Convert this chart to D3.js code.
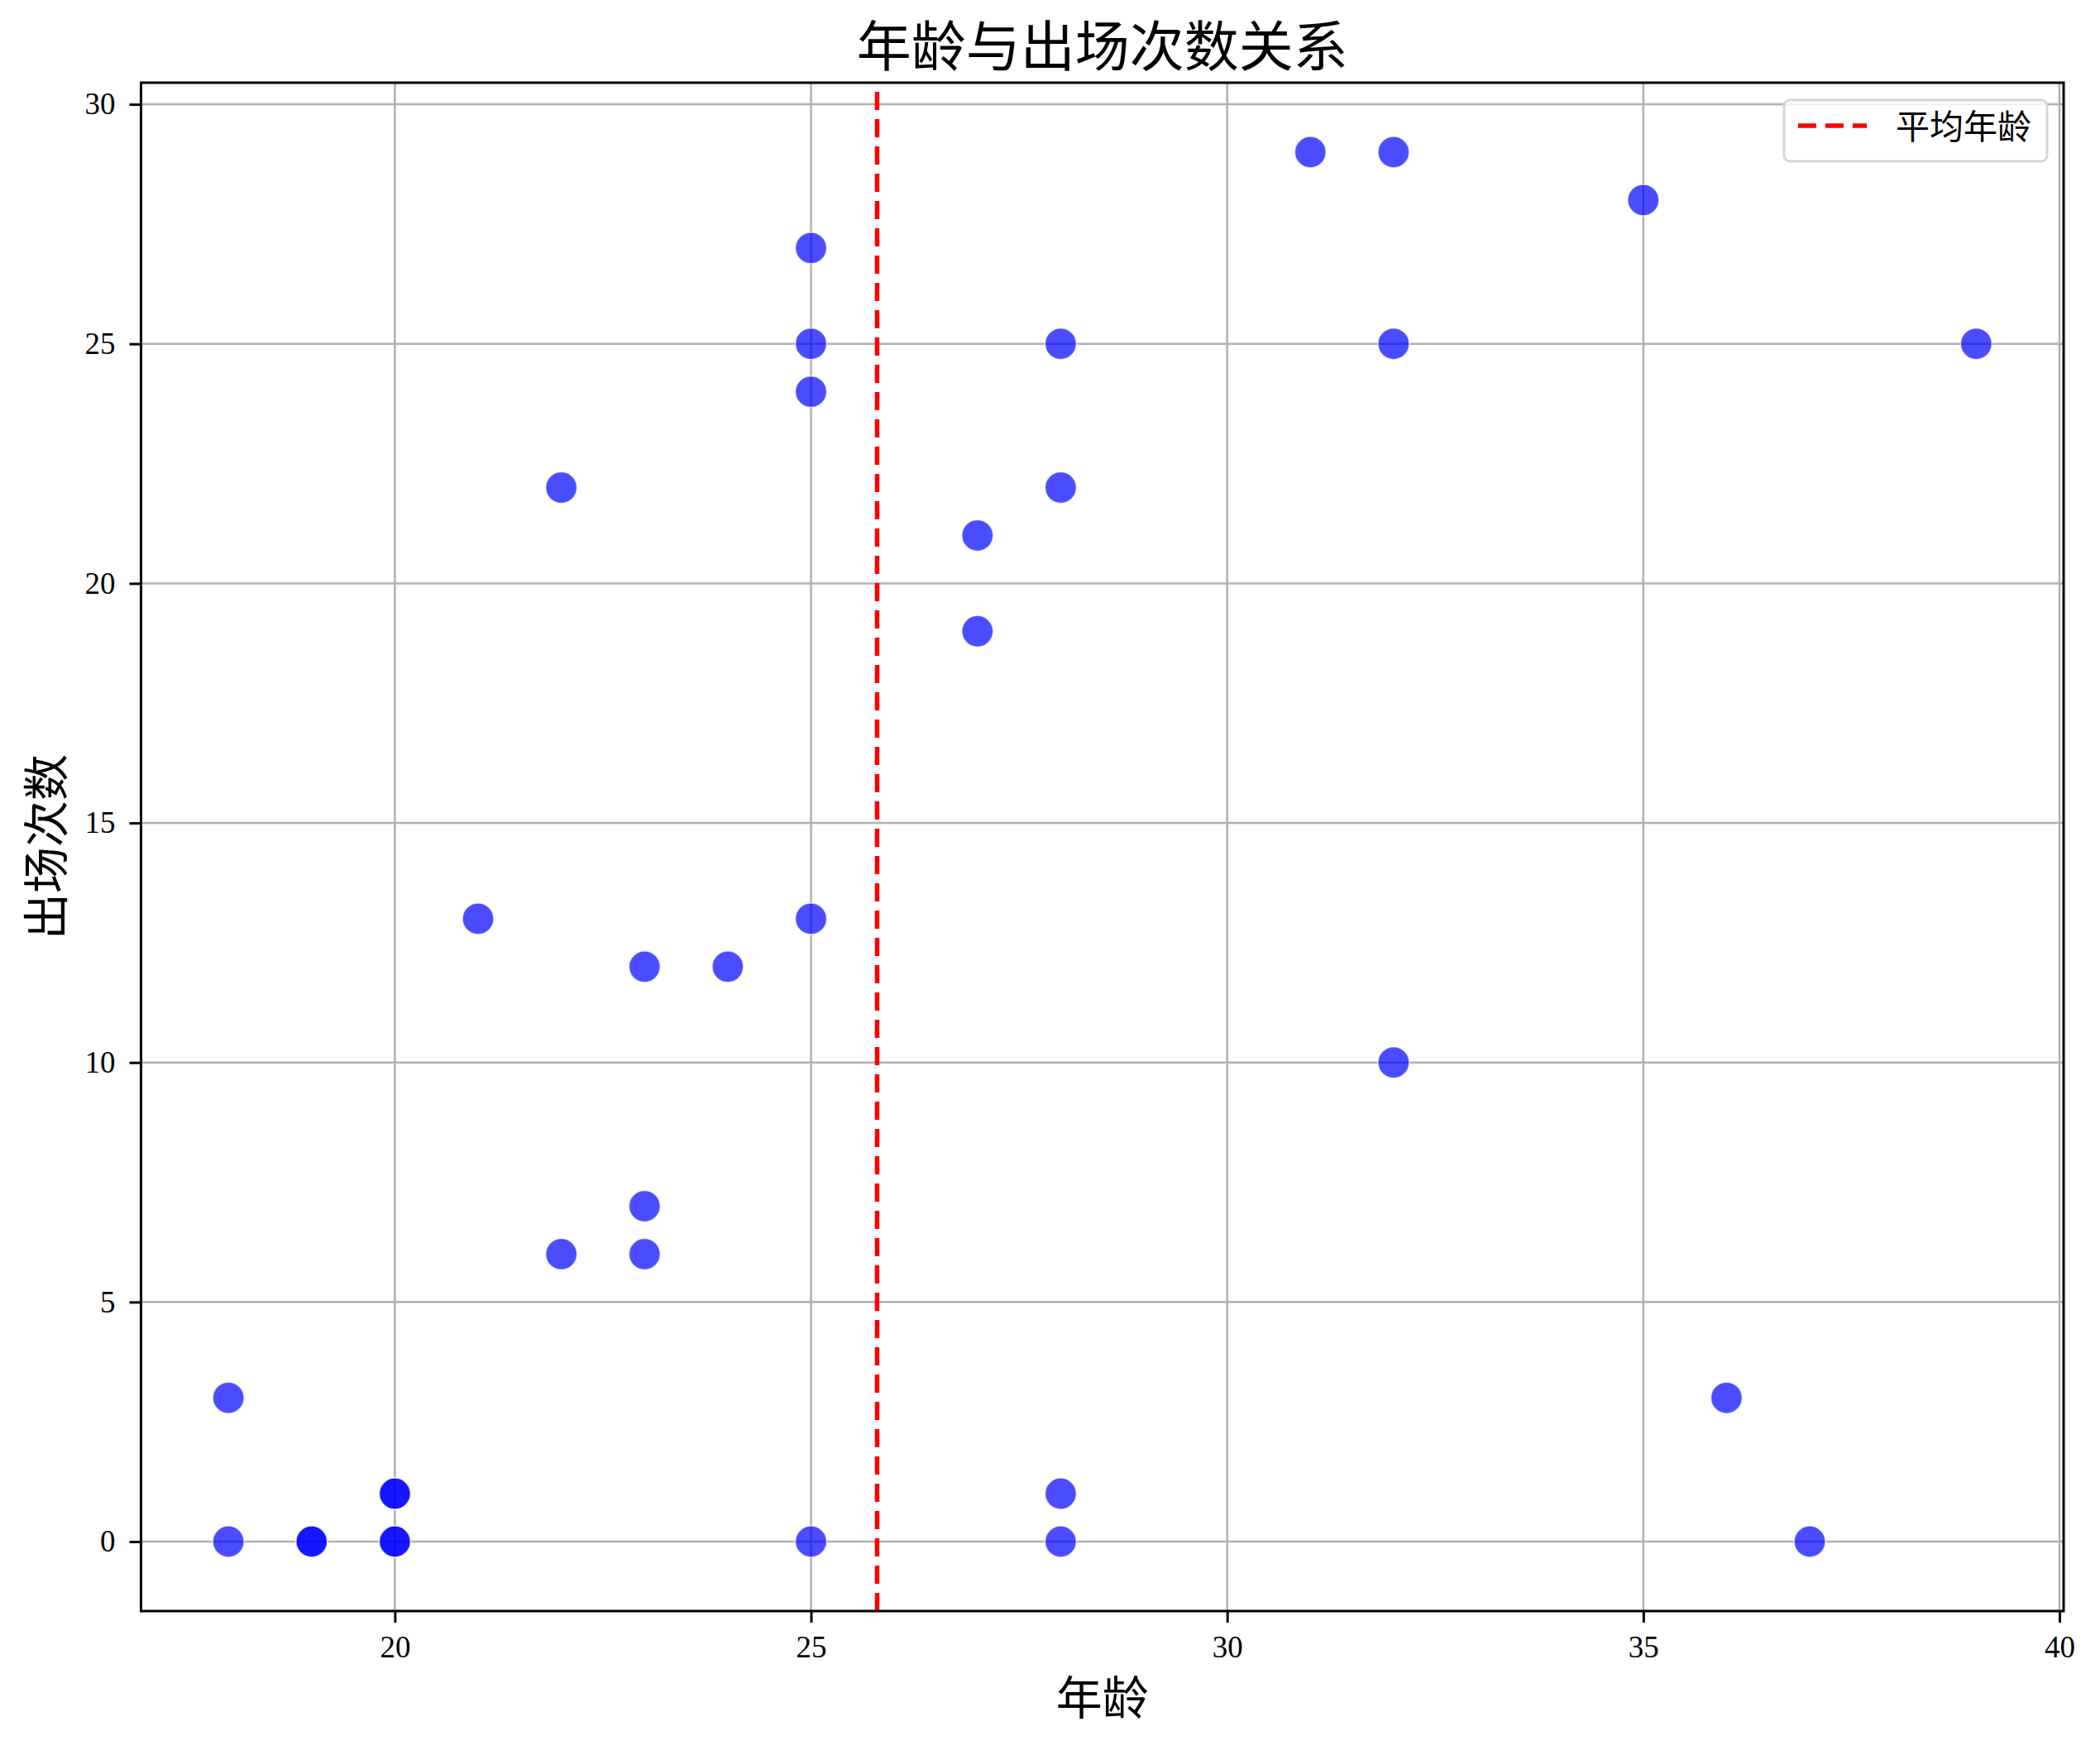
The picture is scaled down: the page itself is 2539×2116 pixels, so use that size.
<!DOCTYPE html>
<html><head><meta charset="utf-8">
<script src="https://cdn.jsdelivr.net/npm/d3@7"></script>
<style>
html,body{margin:0;padding:0;background:#fff;}
svg text{font-family:"Liberation Serif","Noto Sans CJK SC",serif;}
.cjk{font-family:"Noto Sans CJK SC","Liberation Serif",sans-serif;}
</style></head>
<body>
<script>
// ---- data ----
const ages        = [18,18,19,19,20,20,20,20,21,22,22,23,23,23,24,25,25,25,25,25,27,27,28,28,28,28,31,32,32,32,35,36,37,39];
const appearances = [ 3, 0, 0, 0, 1, 1, 0, 0,13,22, 6,12, 7, 6,12,27,25,24,13, 0,21,19,25,22, 1, 0,29,29,25,10,28, 3, 0,25];
const xTicks = [20,25,30,35,40];
const yTicks = [0,5,10,15,20,25,30];
const titleText = "年龄与出场次数关系";
const xLabel = "年龄";
const yLabel = "出场次数";
const legendLabel = "平均年龄";

(function () {
const W = 2539, H = 2116;
const pL = 170.5, pR = 2495, pT = 100, pB = 1948;

const svg = d3.select("body").append("svg").attr("width", W).attr("height", H);

const xMin = d3.min(ages), xMax = d3.max(ages);
const yMin = d3.min(appearances), yMax = d3.max(appearances);
const xPad = (xMax - xMin) * 0.05, yPad = (yMax - yMin) * 0.05;
const x = d3.scaleLinear().domain([xMin - xPad, xMax + xPad]).range([pL, pR]);
const y = d3.scaleLinear().domain([yMin - yPad, yMax + yPad]).range([pB, pT]);

// grid
const grid = svg.append("g");
grid.selectAll("line.gx").data(xTicks).join("line").attr("class", "gx")
  .attr("x1", d => x(d)).attr("x2", d => x(d)).attr("y1", pT).attr("y2", pB)
  .attr("stroke", "#b0b0b0").attr("stroke-width", 2.5);
grid.selectAll("line.gy").data(yTicks).join("line").attr("class", "gy")
  .attr("y1", d => y(d)).attr("y2", d => y(d)).attr("x1", pL).attr("x2", pR)
  .attr("stroke", "#b0b0b0").attr("stroke-width", 2.5);

// points
const pts = ages.map((a, i) => ({a, n: appearances[i]}));
svg.append("g").selectAll("circle").data(pts).join("circle")
  .attr("cx", d => x(d.a)).attr("cy", d => y(d.n)).attr("r", 19)
  .attr("fill", "rgb(0,0,255)").attr("fill-opacity", 0.7)
  .attr("stroke", "white").attr("stroke-opacity", 0.7).attr("stroke-width", 1.6);

// mean line
const meanAge = d3.mean(ages);
svg.append("line")
  .attr("x1", x(meanAge)).attr("x2", x(meanAge)).attr("y1", pB).attr("y2", pT)
  .attr("stroke", "red").attr("stroke-width", 5.5).attr("stroke-dasharray", "22,11");

// axes
const xAxis = svg.append("g").attr("transform", `translate(0,${pB})`)
  .call(d3.axisBottom(x).tickValues(xTicks).tickSize(14).tickPadding(16).tickFormat(d3.format("d")));
const yAxis = svg.append("g").attr("transform", `translate(${pL},0)`)
  .call(d3.axisLeft(y).tickValues(yTicks).tickSize(14).tickPadding(17).tickFormat(d3.format("d")));
[xAxis, yAxis].forEach(g => {
  g.select(".domain").remove();
  g.selectAll(".tick line").attr("stroke", "black").attr("stroke-width", 3);
  g.selectAll(".tick text").attr("font-size", 37).attr("fill", "black")
    .attr("font-family", "Liberation Serif");
});

// spines
svg.append("rect").attr("x", pL).attr("y", pT).attr("width", pR - pL).attr("height", pB - pT)
  .attr("fill", "none").attr("stroke", "black").attr("stroke-width", 3);

// legend
const lg = svg.append("g");
lg.append("rect").attr("x", 2157).attr("y", 121).attr("width", 318).attr("height", 74)
  .attr("rx", 7).attr("fill", "white").attr("fill-opacity", 0.8)
  .attr("stroke", "#d6d6d6").attr("stroke-width", 3);
lg.append("line").attr("x1", 2174).attr("x2", 2257).attr("y1", 152).attr("y2", 152)
  .attr("stroke", "red").attr("stroke-width", 5.5).attr("stroke-dasharray", "22,11");
lg.append("text").attr("class", "cjk").attr("x", 2292).attr("y", 168)
  .attr("font-size", 41).attr("fill", "black").text(legendLabel);

// title & labels
svg.append("text").attr("class", "cjk").attr("x", (pL + pR) / 2).attr("y", 80)
  .attr("text-anchor", "middle").attr("font-size", 66).attr("fill", "black").text(titleText);
svg.append("text").attr("class", "cjk").attr("x", (pL + pR) / 2).attr("y", 2073)
  .attr("text-anchor", "middle").attr("font-size", 56).attr("fill", "black").text(xLabel);
svg.append("text").attr("class", "cjk")
  .attr("transform", `translate(76,${(pT + pB) / 2}) rotate(-90)`)
  .attr("text-anchor", "middle").attr("font-size", 56).attr("fill", "black").text(yLabel);
})();
</script>
</body></html>
